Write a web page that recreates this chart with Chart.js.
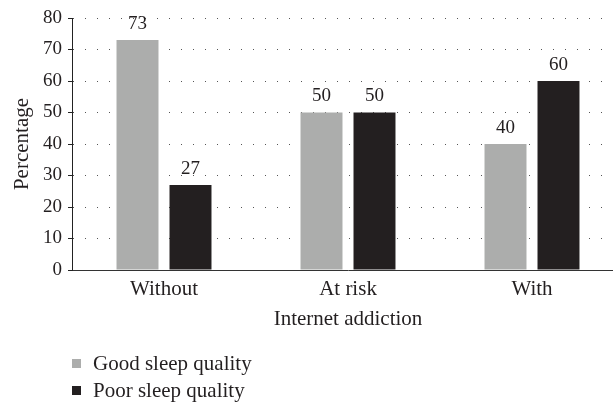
<!DOCTYPE html>
<html>
<head>
<meta charset="utf-8">
<script src="https://cdn.jsdelivr.net/npm/chart.js@4.4.1/dist/chart.umd.min.js"></script>
<style>
  html, body { margin: 0; padding: 0; background: #fff; overflow: hidden; }
  #wrap { position: relative; width: 613px; height: 402px; overflow: hidden; }
  #chart { position: absolute; left: 0; top: 0; }
  #legend { position: absolute; left: 72px; top: 350px; font-family: 'Liberation Serif', serif; font-size: 21px; color: #231f20; }
  #legend div { height: 27px; line-height: 27px; white-space: nowrap; }
  #legend span.box { display: inline-block; width: 9px; height: 9px; margin-right: 12px; vertical-align: 2px; }
</style>
</head>
<body>
<div id="wrap">
  <canvas id="chart" width="625" height="402"></canvas>
  <div id="legend"></div>
</div>
<script>
// Données
const categories = ['Without', 'At risk', 'With'];
const goodSleep = [73, 50, 40];
const poorSleep = [27, 50, 60];
const yTicks = [0, 10, 20, 30, 40, 50, 60, 70, 80];

const serif = "'Liberation Serif', serif";
const textColor = '#231f20';
const grayColor = '#acadac';
const blackColor = '#231f20';

// Étiquettes de valeur au-dessus des barres
const valueLabels = {
    id: 'valueLabels',
    afterDatasetsDraw(chart) {
        const ctx = chart.ctx;
        ctx.save();
        ctx.font = '19px ' + serif;
        ctx.fillStyle = textColor;
        ctx.textAlign = 'center';
        ctx.textBaseline = 'middle';
        chart.data.datasets.forEach((ds, i) => {
            chart.getDatasetMeta(i).data.forEach((bar, j) => {
                ctx.fillText(String(ds.data[j]), bar.x, bar.y - 16);
            });
        });
        ctx.restore();
    }
};

const chart = new Chart(document.getElementById('chart').getContext('2d'), {
    type: 'bar',
    data: {
        labels: categories,
        datasets: [
            { label: 'Good sleep quality', data: goodSleep, backgroundColor: grayColor },
            { label: 'Poor sleep quality', data: poorSleep, backgroundColor: blackColor }
        ]
    },
    options: {
        responsive: false,
        animation: false,
        categoryPercentage: 0.576,
        barPercentage: 0.792,
        layout: { padding: { top: 18, left: 0, right: 1, bottom: 70 } },
        scales: {
            x: {
                grid: { display: false, drawTicks: false },
                border: { display: true, color: '#333', width: 1 },
                ticks: { color: textColor, font: { family: serif, size: 21 }, padding: 7 },
                title: { display: true, text: 'Internet addiction', color: textColor, font: { family: serif, size: 21 }, padding: { top: 0, bottom: 0 } },
                afterFit: (scale) => { scale.height = 62; }
            },
            y: {
                min: 0,
                max: 80,
                afterBuildTicks: (scale) => { scale.ticks = yTicks.map(v => ({ value: v })); },
                grid: {
                    color: '#555',
                    lineWidth: 1,
                    tickLength: 4,
                    tickColor: '#222',
                    tickBorderDash: []
                },
                border: { display: true, color: '#222', width: 1, dash: [1, 11] },
                ticks: { color: textColor, font: { family: serif, size: 19 }, padding: 6 },
                title: { display: true, text: 'Percentage', color: textColor, font: { family: serif, size: 21 }, padding: { top: 10, bottom: 0 } },
                afterFit: (scale) => { scale.width = 72; }
            }
        },
        plugins: {
            legend: { display: false },
            tooltip: { enabled: false }
        }
    },
    plugins: [valueLabels]
});

// Légende verticale sous le graphique
document.getElementById('legend').innerHTML = chart.data.datasets.map(ds =>
    `<div><span class="box" style="background:${ds.backgroundColor}"></span>${ds.label}</div>`
).join('');
</script>
</body>
</html>
